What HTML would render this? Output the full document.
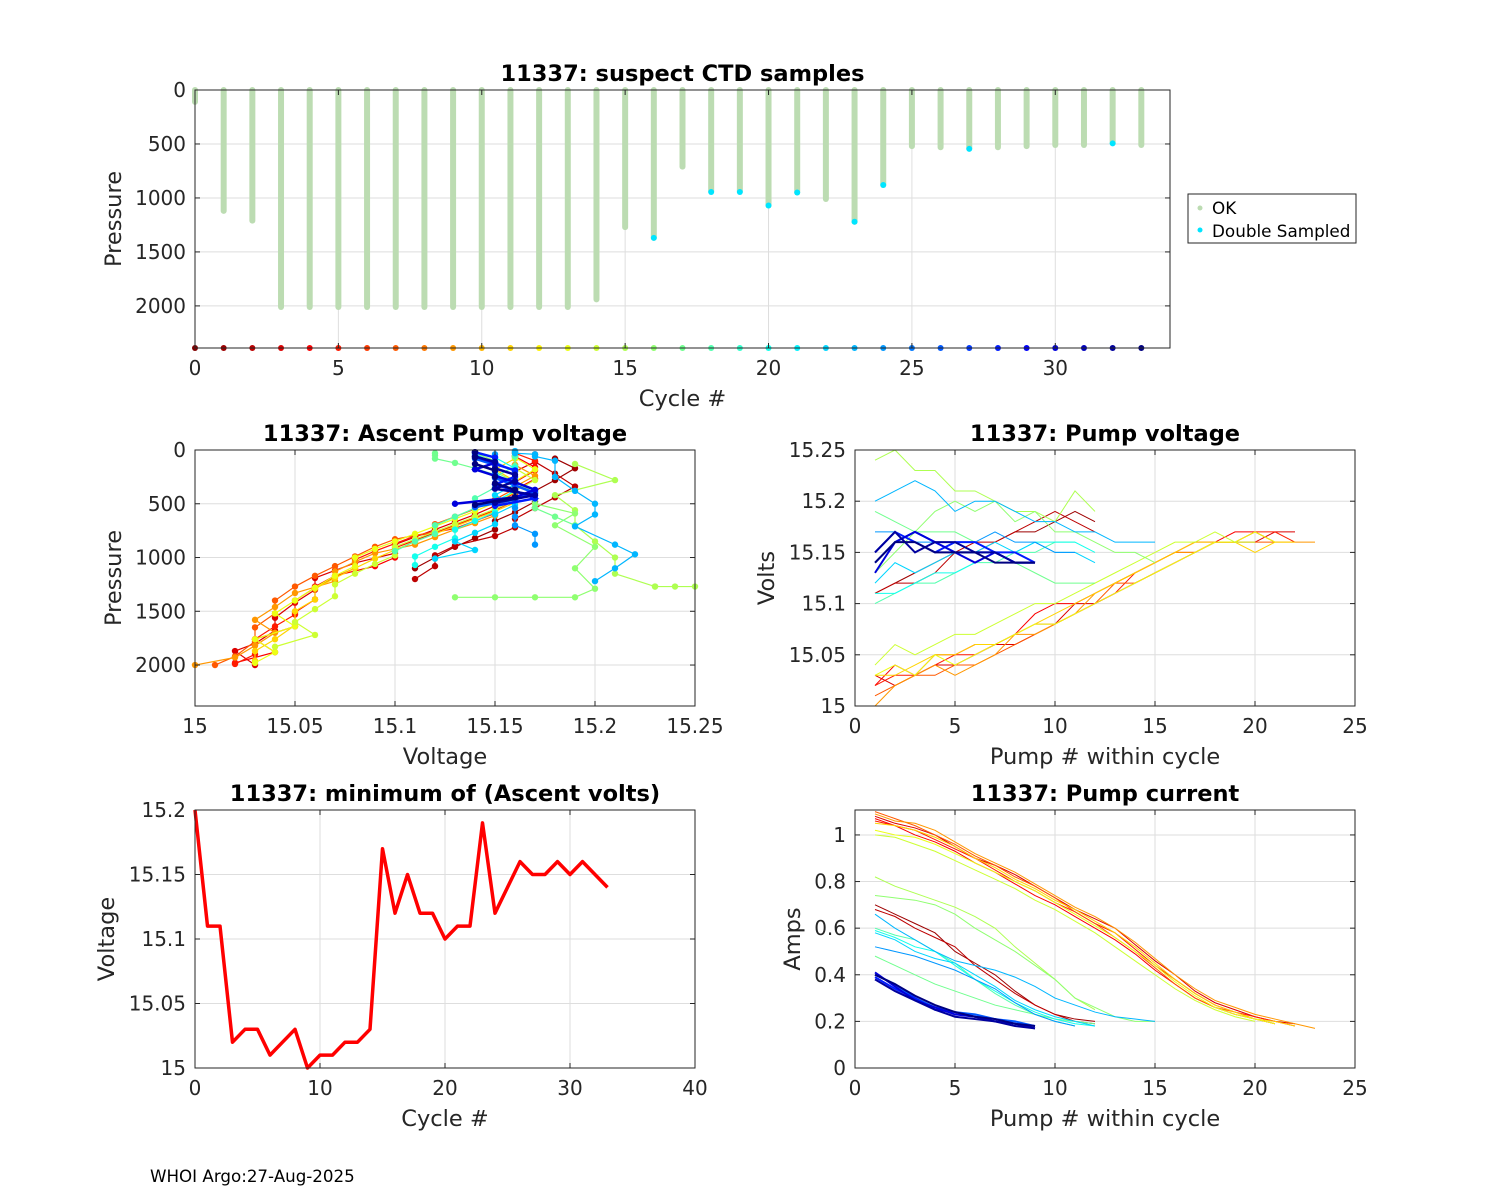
<!DOCTYPE html>
<html><head><meta charset="utf-8"><style>
body{margin:0;background:#fff;}
svg{display:block;font-family:"DejaVu Sans","Liberation Sans",sans-serif;}
</style></head><body>
<svg id="fig" width="1500" height="1200" viewBox="0 0 1500 1200"></svg>
<script>
// ---- data ----
const topCycles=[0,1,2,3,4,5,6,7,8,9,10,11,12,13,14,15,16,17,18,19,20,21,22,23,24,25,26,27,28,29,30,31,32,33];
const topMaxPres=[110,1120,1210,2010,2010,2010,2010,2010,2010,2010,2010,2010,2010,2010,1940,1270,1370,710,940,940,1070,950,1010,1220,880,520,530,540,530,520,510,510,490,510];
const doubleCycles=[16,18,19,20,21,23,24,27,32];
const doublePres=[1370,945,945,1070,950,1220,880,545,495];
const minVolts=[15.20,15.11,15.11,15.02,15.03,15.03,15.01,15.02,15.03,15.00,15.01,15.01,15.02,15.02,15.03,15.17,15.12,15.15,15.12,15.12,15.10,15.11,15.11,15.19,15.12,15.14,15.16,15.15,15.15,15.16,15.15,15.16,15.15,15.14];
const pumpCycles=[1,2,3,4,5,7,9,11,13,14,15,16,17,18,20,22,23,24,26,28,30,32,33];
const voltsByCycle=[
[15.11,15.12,15.13,15.14,15.15,15.15,15.16,15.17,15.17,15.18,15.19,15.18],
[15.11,15.12,15.12,15.13,15.15,15.16,15.16,15.17,15.18,15.19,15.18,15.17],
[15.03,15.02,15.03,15.04,15.04,15.05,15.06,15.06,15.07,15.08,15.10,15.10,15.11,15.12,15.13,15.14,15.15,15.16,15.16,15.16,15.17,15.17],
[15.02,15.04,15.03,15.05,15.05,15.06,15.06,15.07,15.09,15.10,15.10,15.11,15.12,15.13,15.14,15.15,15.16,15.16,15.17,15.17,15.16],
[15.02,15.03,15.03,15.04,15.05,15.05,15.06,15.07,15.08,15.08,15.09,15.10,15.11,15.13,15.14,15.15,15.15,15.16,15.16,15.17,15.17,15.16],
[15.01,15.02,15.03,15.03,15.04,15.04,15.05,15.06,15.07,15.08,15.09,15.10,15.12,15.12,15.13,15.14,15.15,15.16,15.16,15.16,15.16],
[15.00,15.02,15.03,15.04,15.03,15.04,15.05,15.07,15.07,15.08,15.09,15.11,15.12,15.13,15.14,15.15,15.15,15.16,15.16,15.17,15.16,15.16,15.16],
[15.03,15.03,15.04,15.05,15.05,15.06,15.06,15.07,15.08,15.09,15.10,15.11,15.12,15.13,15.14,15.15,15.16,15.16,15.16,15.15,15.16,15.16],
[15.03,15.04,15.03,15.05,15.04,15.05,15.06,15.07,15.08,15.08,15.09,15.10,15.11,15.12,15.13,15.14,15.15,15.16,15.16,15.17,15.16],
[15.04,15.06,15.05,15.06,15.07,15.07,15.08,15.09,15.10,15.10,15.11,15.12,15.13,15.14,15.15,15.16,15.16,15.17,15.16,15.16],
[15.24,15.25,15.23,15.23,15.21,15.21,15.20,15.19,15.19,15.18,15.21,15.19],
[15.13,15.15,15.17,15.19,15.20,15.19,15.20,15.18,15.19,15.17,15.17,15.16,15.15,15.15,15.14],
[15.19,15.18,15.17,15.17,15.17,15.16,15.15,15.14,15.13,15.12,15.12,15.12],
[15.10,15.11,15.12,15.12,15.13,15.14,15.14,15.15,15.15,15.16,15.16],
[15.11,15.11,15.12,15.13,15.13,15.14,15.15,15.15,15.16,15.16,15.16,15.15],
[15.12,15.14,15.13,15.14,15.15,15.15,15.16,15.15,15.16,15.15,15.15,15.14],
[15.20,15.21,15.22,15.21,15.19,15.20,15.20,15.19,15.18,15.18,15.17,15.17,15.16,15.16,15.16],
[15.17,15.17,15.16,15.16,15.16,15.16,15.17,15.16,15.16,15.15,15.15],
[15.14,15.16,15.17,15.16,15.15,15.15,15.15,15.14,15.14],
[15.15,15.17,15.16,15.15,15.16,15.16,15.15,15.15,15.14],
[15.13,15.16,15.17,15.16,15.15,15.14,15.15,15.14,15.14],
[15.15,15.17,15.15,15.16,15.16,15.15,15.15,15.14,15.14],
[15.14,15.16,15.16,15.15,15.15,15.15,15.14,15.14,15.14]];
const ampsByCycle=[
[0.70,0.66,0.62,0.58,0.50,0.45,0.40,0.33,0.27,0.23,0.21,0.20],
[0.68,0.65,0.60,0.56,0.52,0.44,0.38,0.32,0.27,0.23,0.20,0.19],
[1.08,1.05,1.03,1.00,0.95,0.90,0.87,0.83,0.78,0.73,0.68,0.64,0.60,0.53,0.46,0.40,0.33,0.28,0.25,0.22,0.20,0.19],
[1.07,1.04,1.00,0.97,0.93,0.88,0.84,0.79,0.74,0.70,0.65,0.60,0.55,0.49,0.42,0.36,0.30,0.26,0.23,0.21,0.19],
[1.06,1.04,1.02,0.98,0.94,0.90,0.85,0.80,0.76,0.71,0.67,0.62,0.58,0.51,0.44,0.38,0.32,0.27,0.24,0.22,0.20,0.18],
[1.10,1.07,1.04,1.00,0.96,0.91,0.87,0.82,0.78,0.73,0.67,0.62,0.56,0.50,0.43,0.36,0.30,0.26,0.24,0.21,0.19],
[1.09,1.06,1.05,1.02,0.97,0.92,0.88,0.84,0.79,0.74,0.69,0.65,0.60,0.54,0.47,0.40,0.34,0.29,0.26,0.23,0.21,0.19,0.17],
[1.05,1.04,1.02,0.99,0.95,0.90,0.86,0.81,0.77,0.72,0.68,0.63,0.58,0.52,0.45,0.38,0.32,0.27,0.24,0.21,0.20,0.18],
[1.02,1.00,0.99,0.96,0.92,0.88,0.84,0.80,0.76,0.71,0.66,0.61,0.56,0.50,0.44,0.37,0.31,0.26,0.23,0.21,0.19],
[1.00,0.99,0.96,0.93,0.89,0.85,0.81,0.77,0.72,0.68,0.63,0.58,0.52,0.46,0.40,0.34,0.29,0.25,0.22,0.20],
[0.82,0.78,0.75,0.72,0.69,0.65,0.60,0.52,0.45,0.38,0.30,0.25],
[0.74,0.73,0.72,0.70,0.66,0.60,0.55,0.50,0.44,0.38,0.30,0.26,0.22,0.20,0.20],
[0.48,0.44,0.40,0.36,0.33,0.30,0.27,0.25,0.23,0.21,0.20,0.19],
[0.60,0.57,0.55,0.50,0.45,0.38,0.32,0.27,0.23,0.20,0.18],
[0.59,0.56,0.52,0.50,0.44,0.38,0.33,0.28,0.24,0.21,0.19,0.18],
[0.58,0.55,0.50,0.47,0.45,0.40,0.35,0.29,0.25,0.22,0.20,0.18],
[0.66,0.60,0.55,0.50,0.46,0.44,0.42,0.39,0.35,0.30,0.27,0.24,0.22,0.21,0.20],
[0.52,0.50,0.48,0.45,0.42,0.38,0.34,0.28,0.23,0.20,0.18],
[0.40,0.36,0.30,0.26,0.24,0.23,0.21,0.20,0.18],
[0.39,0.34,0.30,0.25,0.24,0.22,0.21,0.19,0.18],
[0.41,0.35,0.29,0.26,0.23,0.22,0.20,0.19,0.17],
[0.38,0.33,0.29,0.25,0.22,0.21,0.20,0.18,0.17],
[0.40,0.36,0.31,0.27,0.24,0.22,0.21,0.19,0.18]];
const presByCycle=[
[1100,1000,900,820,740,660,580,480,380,280,170,80],
[1200,1080,980,890,800,720,640,540,440,340,220,110],
[2000,1870,1800,1680,1560,1420,1300,1190,1120,1050,960,880,810,740,670,600,520,420,320,200,110,40],
[1980,1880,1760,1640,1510,1390,1270,1170,1080,1000,910,840,770,700,630,560,470,370,270,160,60],
[1990,1900,1760,1640,1530,1400,1280,1180,1100,1020,940,870,800,730,660,590,500,400,300,190,100,30],
[2000,1920,1780,1650,1520,1400,1270,1170,1080,990,900,830,760,690,620,550,460,360,250,140,50],
[2000,1930,1820,1700,1580,1460,1330,1220,1130,1040,960,880,810,740,680,610,530,440,340,240,140,60,20],
[1960,1870,1760,1630,1500,1390,1290,1190,1100,1010,930,850,780,710,640,570,490,390,290,180,80,30],
[1980,1880,1760,1640,1520,1400,1280,1170,1080,1000,920,850,780,710,640,570,490,390,290,180,70],
[1830,1720,1600,1480,1360,1250,1150,1060,980,900,830,760,690,620,550,470,380,280,170,70],
[1270,1270,1270,1270,1150,1000,850,700,560,420,280,130],
[1370,1370,1370,1370,1290,1100,900,700,590,500,400,300,200,100,30],
[700,620,540,460,380,300,230,170,120,80,50,30],
[940,850,780,700,620,540,450,350,250,150,60],
[1070,990,900,820,740,660,580,480,380,280,170,70],
[1010,930,850,770,690,600,510,420,320,220,120,40],
[1220,1100,970,880,710,600,500,380,250,100,60,40,30,20,10],
[880,780,700,620,540,460,380,290,200,110,40],
[530,460,400,330,260,200,140,80,30],
[520,450,380,320,250,190,130,70,20],
[500,440,370,300,240,180,120,60,20],
[490,420,360,290,230,170,110,60,20],
[510,440,370,310,250,190,130,70,20]];

// ---- helpers ----
const NS='http://www.w3.org/2000/svg';
const svg=document.getElementById('fig');
function el(tag,attrs,parent,text){const e=document.createElementNS(NS,tag);for(const k in attrs)e.setAttribute(k,attrs[k]);if(text!==undefined)e.textContent=text;(parent||svg).appendChild(e);return e;}
function jet(c){const t=1-c/33;const cl=v=>Math.max(0,Math.min(1,v));const r=cl(1.5-Math.abs(4*t-3)),g=cl(1.5-Math.abs(4*t-2)),b=cl(1.5-Math.abs(4*t-1));return `rgb(${Math.round(r*255)},${Math.round(g*255)},${Math.round(b*255)})`;}
function makeAxes(o){
  const g=el('g',{},svg);
  const sx=v=>o.x+(v-o.xmin)/(o.xmax-o.xmin)*o.w;
  const sy=o.rev?(v=>o.y+(v-o.ymin)/(o.ymax-o.ymin)*o.h):(v=>o.y+o.h-(v-o.ymin)/(o.ymax-o.ymin)*o.h);
  el('rect',{x:o.x,y:o.y,width:o.w,height:o.h,fill:'#fff'},g);
  const grid=el('g',{stroke:'#dedede','stroke-width':1},g);
  o.xt.forEach(v=>{const X=sx(v);el('line',{x1:X,x2:X,y1:o.y,y2:o.y+o.h},grid);});
  o.yt.forEach(v=>{const Y=sy(v);el('line',{x1:o.x,x2:o.x+o.w,y1:Y,y2:Y},grid);});
  const plot=el('g',{},g);
  const fr=el('g',{},g);
  el('rect',{x:o.x,y:o.y,width:o.w,height:o.h,fill:'none',stroke:'#262626','stroke-width':1},fr);
  const xl=el('g',{'font-size':20,fill:'#262626','text-anchor':'middle'},fr);
  o.xt.forEach((v,i)=>{const X=sx(v);el('line',{x1:X,x2:X,y1:o.y+o.h,y2:o.y+o.h-5,stroke:'#262626'},fr);el('line',{x1:X,x2:X,y1:o.y,y2:o.y+5,stroke:'#262626'},fr);el('text',{x:X,y:o.y+o.h+27},xl,o.xtl[i]);});
  const yl=el('g',{'font-size':20,fill:'#262626','text-anchor':'end'},fr);
  o.yt.forEach((v,i)=>{const Y=sy(v);el('line',{x1:o.x,x2:o.x+5,y1:Y,y2:Y,stroke:'#262626'},fr);el('line',{x1:o.x+o.w,x2:o.x+o.w-5,y1:Y,y2:Y,stroke:'#262626'},fr);el('text',{x:o.x-9,y:Y+7},yl,o.ytl[i]);});
  const t=el('text',{x:o.x+o.w/2,y:o.y-9,'font-size':22.5,'font-weight':'bold','text-anchor':'middle',fill:'#000'},g,o.title);
  const xa=el('text',{x:o.x+o.w/2,y:o.y+o.h+58,'font-size':22.5,'text-anchor':'middle',fill:'#262626'},g,o.xlabel);
  const ya=el('text',{x:0,y:0,'font-size':22.5,'text-anchor':'middle',fill:'#262626',transform:`translate(${o.ylx},${o.y+o.h/2}) rotate(-90)`},g,o.ylabel);
  return {sx,sy,plot};
}
function rng(a,b,s){const r=[];for(let v=a;v<=b+1e-9;v+=s)r.push(+v.toFixed(3));return r;}

// ---- top plot ----
const A1=makeAxes({name:'suspect-ctd-chart',x:195,y:90,w:975,h:258,xmin:0,xmax:34,ymin:0,ymax:2390,rev:true,
  xt:rng(0,30,5),xtl:['0','5','10','15','20','25','30'],yt:[0,500,1000,1500,2000],ytl:['0','500','1000','1500','2000'],
  title:'11337: suspect CTD samples',xlabel:'Cycle #',ylabel:'Pressure',ylx:121});
topCycles.forEach((c,i)=>{
  const b=el('line',{x1:A1.sx(c),x2:A1.sx(c),y1:A1.sy(0),y2:A1.sy(topMaxPres[i]),stroke:'#bcdcb2','stroke-width':6,'stroke-linecap':'round'},A1.plot);
  
  const d=el('circle',{cx:A1.sx(c),cy:A1.sy(2390),r:3,fill:jet(c)},A1.plot);
  
});
doubleCycles.forEach((c,i)=>{
  const d=el('circle',{cx:A1.sx(c),cy:A1.sy(doublePres[i]),r:3,fill:'#00e5ff'},A1.plot);
  
});
// legend
const lg=el('g',{},svg);
el('rect',{x:1188,y:194,width:168,height:49,fill:'#fff',stroke:'#262626'},lg);
el('circle',{cx:1200,cy:208,r:2.5,fill:'#bcdcb2'},lg);
el('text',{x:1212,y:214,'font-size':16.8,fill:'#000'},lg,'OK');
el('circle',{cx:1200,cy:230,r:2.5,fill:'#00e5ff'},lg);
el('text',{x:1212,y:237,'font-size':16.8,fill:'#000'},lg,'Double Sampled');

// ---- ascent pump voltage ----
const A2=makeAxes({name:'ascent-pump-voltage-chart',x:195,y:450,w:500,h:256,xmin:15,xmax:15.25,ymin:0,ymax:2381,rev:true,
  xt:[15,15.05,15.1,15.15,15.2,15.25],xtl:['15','15.05','15.1','15.15','15.2','15.25'],yt:[0,500,1000,1500,2000],ytl:['0','500','1000','1500','2000'],
  title:'11337: Ascent Pump voltage',xlabel:'Voltage',ylabel:'Pressure',ylx:121});
// ---- pump voltage ----
const A3=makeAxes({name:'pump-voltage-chart',x:855,y:450,w:500,h:256,xmin:0,xmax:25,ymin:15,ymax:15.25,rev:false,
  xt:[0,5,10,15,20,25],xtl:['0','5','10','15','20','25'],yt:[15,15.05,15.1,15.15,15.2,15.25],ytl:['15','15.05','15.1','15.15','15.2','15.25'],
  title:'11337: Pump voltage',xlabel:'Pump # within cycle',ylabel:'Volts',ylx:774});
// ---- pump current ----
const A5=makeAxes({name:'pump-current-chart',x:855,y:810,w:500,h:258,xmin:0,xmax:25,ymin:0,ymax:1.107,rev:false,
  xt:[0,5,10,15,20,25],xtl:['0','5','10','15','20','25'],yt:[0,0.2,0.4,0.6,0.8,1],ytl:['0','0.2','0.4','0.6','0.8','1'],
  title:'11337: Pump current',xlabel:'Pump # within cycle',ylabel:'Amps',ylx:800});
pumpCycles.forEach((c,k)=>{
  const col=jet(c),V=voltsByCycle[k],I=ampsByCycle[k],P=presByCycle[k];
  const p2=el('polyline',{points:V.map((v,j)=>A2.sx(v)+','+A2.sy(P[j])).join(' '),fill:'none',stroke:col,'stroke-width':c>=26?2.5:1.2},A2.plot);
  
  V.forEach((v,j)=>{const d=el('circle',{cx:A2.sx(v),cy:A2.sy(P[j]),r:3.2,fill:col},A2.plot);});
  const p3=el('polyline',{points:V.map((v,j)=>A3.sx(j+1)+','+A3.sy(v)).join(' '),fill:'none',stroke:col,'stroke-width':c>=26?2:1},A3.plot);
  
  const p5=el('polyline',{points:I.map((v,j)=>A5.sx(j+1)+','+A5.sy(v)).join(' '),fill:'none',stroke:col,'stroke-width':c>=26?2:1},A5.plot);
  
});

// ---- min ascent volts ----
const A4=makeAxes({name:'min-ascent-volts-chart',x:195,y:810,w:500,h:258,xmin:0,xmax:40,ymin:15,ymax:15.2,rev:false,
  xt:[0,10,20,30,40],xtl:['0','10','20','30','40'],yt:[15,15.05,15.1,15.15,15.2],ytl:['15','15.05','15.1','15.15','15.2'],
  title:'11337: minimum of (Ascent volts)',xlabel:'Cycle #',ylabel:'Voltage',ylx:114});
const ml=el('polyline',{points:minVolts.map((v,i)=>A4.sx(topCycles[i])+','+A4.sy(v)).join(' '),fill:'none',stroke:'#ff0000','stroke-width':3.5,'stroke-linejoin':'round'},A4.plot);


const ft=el('text',{x:150,y:1182,'font-size':16.7,fill:'#000'},svg,'WHOI Argo:27-Aug-2025');

</script>
</body></html>
